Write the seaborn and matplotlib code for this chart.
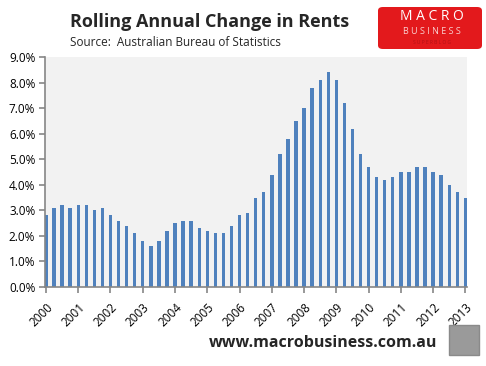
import numpy as np
import pandas as pd
import seaborn as sns
import matplotlib.pyplot as plt
from matplotlib.patches import Rectangle, FancyBboxPatch
from matplotlib.ticker import PercentFormatter

# quarterly rolling annual change in rents, 2000 Q1 .. 2013 Q1
years = list(range(2000, 2014))
rent_change = [
    2.8, 3.1, 3.2, 3.1, 3.2, 3.2, 3.0, 3.1,   # 2000-2001
    2.8, 2.6, 2.4, 2.1, 1.8, 1.6, 1.8, 2.2,   # 2002-2003
    2.5, 2.6, 2.6, 2.3, 2.2, 2.1, 2.1, 2.4,   # 2004-2005
    2.8, 2.9, 3.5, 3.7, 4.4, 5.2, 5.8, 6.5,   # 2006-2007
    7.0, 7.8, 8.1, 8.4, 8.1, 7.2, 6.2, 5.2,   # 2008-2009
    4.7, 4.3, 4.2, 4.3, 4.5, 4.5, 4.7, 4.7,   # 2010-2011
    4.5, 4.4, 4.0, 3.7, 3.5,                  # 2012-2013 Q1
]

bar_colour = '#4F81BD'
axis_grey = '#868686'


def main():
    data = pd.DataFrame({'quarter': np.arange(len(rent_change)), 'change': rent_change})

    sns.set_style('white')
    plt.rcParams['font.family'] = ['Open Sans', 'DejaVu Sans']

    fig = plt.figure(figsize=(4.86, 3.66), dpi=100)
    ax = fig.add_axes([45 / 486, 1 - 287 / 366, 422 / 486, 230 / 366])
    ax.set_facecolor('#F2F2F2')

    sns.barplot(data=data, x='quarter', y='change', color=bar_colour,
                width=0.42, saturation=1, ax=ax, linewidth=0)

    ax.set_xlim(-0.12, len(rent_change) - 1 + 0.2)
    ax.set_ylim(0, 9)
    ax.set_yticks(np.arange(0, 9.1, 1))
    ax.yaxis.set_major_formatter(PercentFormatter(decimals=1))
    ax.set_xticks(np.arange(0, len(rent_change), 4))
    ax.set_xticklabels([str(y) for y in years], rotation=45, ha='right',
                       rotation_mode='anchor')
    ax.set_xlabel('')
    ax.set_ylabel('')

    for side in ['top', 'right']:
        ax.spines[side].set_visible(False)
    for side in ['left', 'bottom']:
        ax.spines[side].set_color(axis_grey)
        ax.spines[side].set_linewidth(1.2)
    ax.tick_params(axis='both', colors=axis_grey, length=4, width=1.2,
                   labelcolor='black', labelsize=8.5, direction='out')
    ax.tick_params(axis='x', pad=6, bottom=True)
    ax.tick_params(axis='y', left=True, pad=3)

    # titles
    fig.text(70 / 486, 1 - 22 / 366, 'Rolling Annual Change in Rents',
             fontsize=13, fontweight='bold', va='center', ha='left')
    fig.text(70 / 486, 1 - 42 / 366, 'Source:  Australian Bureau of Statistics',
             fontsize=8.5, va='center', ha='left')

    # logo box
    fig.patches.append(FancyBboxPatch((378 / 486, 1 - 49 / 366), 104 / 486, 42 / 366,
                                      boxstyle='round,pad=0,rounding_size=0.01',
                                      transform=fig.transFigure, facecolor='#E3191C',
                                      edgecolor='none'))
    fig.text(432 / 486, 1 - 17 / 366, 'M A C R O', color='white', fontsize=10,
             ha='center', va='center')
    fig.text(432 / 486, 1 - 32 / 366, 'B U S I N E S S', color='#F8D0D0', fontsize=6.5,
             ha='center', va='center')
    fig.text(432 / 486, 1 - 42 / 366, 'S U P E R B L O G', color='#B01014', fontsize=3.5,
             ha='center', va='center')

    # footer
    fig.text(437 / 486, 1 - 343 / 366, 'www.macrobusiness.com.au',
             fontsize=11.5, fontweight='bold', ha='right', va='center')
    fig.patches.append(Rectangle((449 / 486, 1 - 355 / 366), 30 / 486, 30 / 366,
                                 transform=fig.transFigure, facecolor='#9A9A9A',
                                 edgecolor='#8A8A8A', linewidth=1))

    fig.savefig('out.png', dpi=100, facecolor='white')


if __name__ == '__main__':
    main()
